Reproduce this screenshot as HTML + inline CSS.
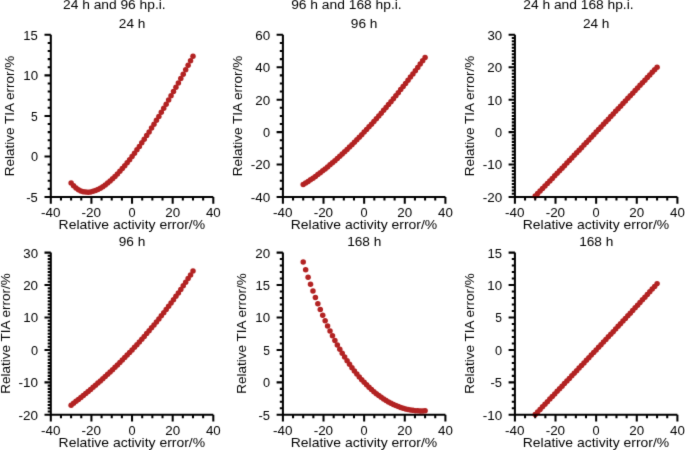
<!DOCTYPE html>
<html><head><meta charset="utf-8"><style>html,body{margin:0;padding:0;background:#fff;overflow:hidden}svg{display:block}text{font-family:"Liberation Sans",sans-serif}</style></head><body>
<svg width="685" height="450" viewBox="0 0 685 450">
<defs><filter id="b" filterUnits="userSpaceOnUse" x="-10" y="-10" width="705" height="470"><feConvolveMatrix order="3" kernelMatrix="0.0113 0.0838 0.0113 0.0838 0.6193 0.0838 0.0113 0.0838 0.0113" edgeMode="none"/></filter></defs>
<rect width="685" height="450" fill="#fff"/>
<g filter="url(#b)">
<g fill="#b22222"><circle cx="71.11" cy="183.11" r="2.75"/><circle cx="73.55" cy="185.84" r="2.75"/><circle cx="75.99" cy="188.01" r="2.75"/><circle cx="78.42" cy="189.68" r="2.75"/><circle cx="80.86" cy="190.88" r="2.75"/><circle cx="83.30" cy="191.67" r="2.75"/><circle cx="85.74" cy="192.08" r="2.75"/><circle cx="88.17" cy="192.14" r="2.75"/><circle cx="90.61" cy="191.89" r="2.75"/><circle cx="93.05" cy="191.34" r="2.75"/><circle cx="95.49" cy="190.53" r="2.75"/><circle cx="97.92" cy="189.47" r="2.75"/><circle cx="100.36" cy="188.17" r="2.75"/><circle cx="102.80" cy="186.67" r="2.75"/><circle cx="105.24" cy="184.97" r="2.75"/><circle cx="107.67" cy="183.09" r="2.75"/><circle cx="110.11" cy="181.03" r="2.75"/><circle cx="112.55" cy="178.82" r="2.75"/><circle cx="114.99" cy="176.45" r="2.75"/><circle cx="117.42" cy="173.95" r="2.75"/><circle cx="119.86" cy="171.32" r="2.75"/><circle cx="122.30" cy="168.56" r="2.75"/><circle cx="124.74" cy="165.69" r="2.75"/><circle cx="127.17" cy="162.71" r="2.75"/><circle cx="129.61" cy="159.63" r="2.75"/><circle cx="132.05" cy="156.45" r="2.75"/><circle cx="134.49" cy="153.18" r="2.75"/><circle cx="136.93" cy="149.82" r="2.75"/><circle cx="139.36" cy="146.38" r="2.75"/><circle cx="141.80" cy="142.87" r="2.75"/><circle cx="144.24" cy="139.28" r="2.75"/><circle cx="146.68" cy="135.62" r="2.75"/><circle cx="149.11" cy="131.89" r="2.75"/><circle cx="151.55" cy="128.10" r="2.75"/><circle cx="153.99" cy="124.25" r="2.75"/><circle cx="156.43" cy="120.34" r="2.75"/><circle cx="158.86" cy="116.38" r="2.75"/><circle cx="161.30" cy="112.36" r="2.75"/><circle cx="163.74" cy="108.30" r="2.75"/><circle cx="166.18" cy="104.19" r="2.75"/><circle cx="168.61" cy="100.03" r="2.75"/><circle cx="171.05" cy="95.83" r="2.75"/><circle cx="173.49" cy="91.58" r="2.75"/><circle cx="175.93" cy="87.30" r="2.75"/><circle cx="178.36" cy="82.97" r="2.75"/><circle cx="180.80" cy="78.61" r="2.75"/><circle cx="183.24" cy="74.21" r="2.75"/><circle cx="185.68" cy="69.78" r="2.75"/><circle cx="188.11" cy="65.32" r="2.75"/><circle cx="190.55" cy="60.82" r="2.75"/><circle cx="192.99" cy="56.30" r="2.75"/><circle cx="303.21" cy="184.51" r="2.75"/><circle cx="305.65" cy="183.02" r="2.75"/><circle cx="308.09" cy="181.46" r="2.75"/><circle cx="310.52" cy="179.83" r="2.75"/><circle cx="312.96" cy="178.15" r="2.75"/><circle cx="315.40" cy="176.40" r="2.75"/><circle cx="317.84" cy="174.60" r="2.75"/><circle cx="320.27" cy="172.75" r="2.75"/><circle cx="322.71" cy="170.85" r="2.75"/><circle cx="325.15" cy="168.90" r="2.75"/><circle cx="327.59" cy="166.90" r="2.75"/><circle cx="330.02" cy="164.86" r="2.75"/><circle cx="332.46" cy="162.78" r="2.75"/><circle cx="334.90" cy="160.65" r="2.75"/><circle cx="337.34" cy="158.48" r="2.75"/><circle cx="339.77" cy="156.27" r="2.75"/><circle cx="342.21" cy="154.02" r="2.75"/><circle cx="344.65" cy="151.74" r="2.75"/><circle cx="347.09" cy="149.41" r="2.75"/><circle cx="349.52" cy="147.05" r="2.75"/><circle cx="351.96" cy="144.65" r="2.75"/><circle cx="354.40" cy="142.21" r="2.75"/><circle cx="356.84" cy="139.74" r="2.75"/><circle cx="359.27" cy="137.24" r="2.75"/><circle cx="361.71" cy="134.69" r="2.75"/><circle cx="364.15" cy="132.12" r="2.75"/><circle cx="366.59" cy="129.51" r="2.75"/><circle cx="369.02" cy="126.87" r="2.75"/><circle cx="371.46" cy="124.20" r="2.75"/><circle cx="373.90" cy="121.49" r="2.75"/><circle cx="376.34" cy="118.75" r="2.75"/><circle cx="378.77" cy="115.97" r="2.75"/><circle cx="381.21" cy="113.17" r="2.75"/><circle cx="383.65" cy="110.33" r="2.75"/><circle cx="386.09" cy="107.47" r="2.75"/><circle cx="388.52" cy="104.57" r="2.75"/><circle cx="390.96" cy="101.64" r="2.75"/><circle cx="393.40" cy="98.68" r="2.75"/><circle cx="395.84" cy="95.68" r="2.75"/><circle cx="398.27" cy="92.66" r="2.75"/><circle cx="400.71" cy="89.61" r="2.75"/><circle cx="403.15" cy="86.52" r="2.75"/><circle cx="405.59" cy="83.41" r="2.75"/><circle cx="408.02" cy="80.27" r="2.75"/><circle cx="410.46" cy="77.09" r="2.75"/><circle cx="412.90" cy="73.89" r="2.75"/><circle cx="415.34" cy="70.65" r="2.75"/><circle cx="417.77" cy="67.39" r="2.75"/><circle cx="420.21" cy="64.10" r="2.75"/><circle cx="422.65" cy="60.77" r="2.75"/><circle cx="425.09" cy="57.42" r="2.75"/><circle cx="535.21" cy="196.00" r="2.75"/><circle cx="537.65" cy="193.51" r="2.75"/><circle cx="540.09" cy="191.01" r="2.75"/><circle cx="542.52" cy="188.50" r="2.75"/><circle cx="544.96" cy="185.98" r="2.75"/><circle cx="547.40" cy="183.46" r="2.75"/><circle cx="549.84" cy="180.93" r="2.75"/><circle cx="552.27" cy="178.40" r="2.75"/><circle cx="554.71" cy="175.85" r="2.75"/><circle cx="557.15" cy="173.31" r="2.75"/><circle cx="559.59" cy="170.76" r="2.75"/><circle cx="562.02" cy="168.20" r="2.75"/><circle cx="564.46" cy="165.64" r="2.75"/><circle cx="566.90" cy="163.08" r="2.75"/><circle cx="569.34" cy="160.52" r="2.75"/><circle cx="571.77" cy="157.95" r="2.75"/><circle cx="574.21" cy="155.37" r="2.75"/><circle cx="576.65" cy="152.80" r="2.75"/><circle cx="579.09" cy="150.22" r="2.75"/><circle cx="581.52" cy="147.64" r="2.75"/><circle cx="583.96" cy="145.06" r="2.75"/><circle cx="586.40" cy="142.47" r="2.75"/><circle cx="588.84" cy="139.89" r="2.75"/><circle cx="591.27" cy="137.30" r="2.75"/><circle cx="593.71" cy="134.71" r="2.75"/><circle cx="596.15" cy="132.12" r="2.75"/><circle cx="598.59" cy="129.53" r="2.75"/><circle cx="601.02" cy="126.93" r="2.75"/><circle cx="603.46" cy="124.34" r="2.75"/><circle cx="605.90" cy="121.74" r="2.75"/><circle cx="608.34" cy="119.15" r="2.75"/><circle cx="610.77" cy="116.55" r="2.75"/><circle cx="613.21" cy="113.95" r="2.75"/><circle cx="615.65" cy="111.35" r="2.75"/><circle cx="618.09" cy="108.75" r="2.75"/><circle cx="620.52" cy="106.15" r="2.75"/><circle cx="622.96" cy="103.55" r="2.75"/><circle cx="625.40" cy="100.95" r="2.75"/><circle cx="627.84" cy="98.35" r="2.75"/><circle cx="630.27" cy="95.75" r="2.75"/><circle cx="632.71" cy="93.15" r="2.75"/><circle cx="635.15" cy="90.55" r="2.75"/><circle cx="637.59" cy="87.95" r="2.75"/><circle cx="640.02" cy="85.34" r="2.75"/><circle cx="642.46" cy="82.74" r="2.75"/><circle cx="644.90" cy="80.14" r="2.75"/><circle cx="647.34" cy="77.54" r="2.75"/><circle cx="649.77" cy="74.93" r="2.75"/><circle cx="652.21" cy="72.33" r="2.75"/><circle cx="654.65" cy="69.73" r="2.75"/><circle cx="657.09" cy="67.13" r="2.75"/><circle cx="71.11" cy="405.15" r="2.75"/><circle cx="73.55" cy="403.27" r="2.75"/><circle cx="75.99" cy="401.37" r="2.75"/><circle cx="78.42" cy="399.44" r="2.75"/><circle cx="80.86" cy="397.48" r="2.75"/><circle cx="83.30" cy="395.50" r="2.75"/><circle cx="85.74" cy="393.50" r="2.75"/><circle cx="88.17" cy="391.47" r="2.75"/><circle cx="90.61" cy="389.41" r="2.75"/><circle cx="93.05" cy="387.33" r="2.75"/><circle cx="95.49" cy="385.22" r="2.75"/><circle cx="97.92" cy="383.08" r="2.75"/><circle cx="100.36" cy="380.91" r="2.75"/><circle cx="102.80" cy="378.71" r="2.75"/><circle cx="105.24" cy="376.49" r="2.75"/><circle cx="107.67" cy="374.23" r="2.75"/><circle cx="110.11" cy="371.95" r="2.75"/><circle cx="112.55" cy="369.63" r="2.75"/><circle cx="114.99" cy="367.28" r="2.75"/><circle cx="117.42" cy="364.90" r="2.75"/><circle cx="119.86" cy="362.49" r="2.75"/><circle cx="122.30" cy="360.05" r="2.75"/><circle cx="124.74" cy="357.57" r="2.75"/><circle cx="127.17" cy="355.05" r="2.75"/><circle cx="129.61" cy="352.50" r="2.75"/><circle cx="132.05" cy="349.92" r="2.75"/><circle cx="134.49" cy="347.30" r="2.75"/><circle cx="136.93" cy="344.64" r="2.75"/><circle cx="139.36" cy="341.94" r="2.75"/><circle cx="141.80" cy="339.21" r="2.75"/><circle cx="144.24" cy="336.43" r="2.75"/><circle cx="146.68" cy="333.62" r="2.75"/><circle cx="149.11" cy="330.76" r="2.75"/><circle cx="151.55" cy="327.86" r="2.75"/><circle cx="153.99" cy="324.92" r="2.75"/><circle cx="156.43" cy="321.94" r="2.75"/><circle cx="158.86" cy="318.90" r="2.75"/><circle cx="161.30" cy="315.83" r="2.75"/><circle cx="163.74" cy="312.70" r="2.75"/><circle cx="166.18" cy="309.53" r="2.75"/><circle cx="168.61" cy="306.31" r="2.75"/><circle cx="171.05" cy="303.03" r="2.75"/><circle cx="173.49" cy="299.71" r="2.75"/><circle cx="175.93" cy="296.33" r="2.75"/><circle cx="178.36" cy="292.90" r="2.75"/><circle cx="180.80" cy="289.41" r="2.75"/><circle cx="183.24" cy="285.87" r="2.75"/><circle cx="185.68" cy="282.27" r="2.75"/><circle cx="188.11" cy="278.60" r="2.75"/><circle cx="190.55" cy="274.88" r="2.75"/><circle cx="192.99" cy="271.10" r="2.75"/><circle cx="303.21" cy="262.11" r="2.75"/><circle cx="305.65" cy="269.79" r="2.75"/><circle cx="308.09" cy="277.15" r="2.75"/><circle cx="310.52" cy="284.20" r="2.75"/><circle cx="312.96" cy="290.96" r="2.75"/><circle cx="315.40" cy="297.44" r="2.75"/><circle cx="317.84" cy="303.65" r="2.75"/><circle cx="320.27" cy="309.60" r="2.75"/><circle cx="322.71" cy="315.31" r="2.75"/><circle cx="325.15" cy="320.78" r="2.75"/><circle cx="327.59" cy="326.03" r="2.75"/><circle cx="330.02" cy="331.05" r="2.75"/><circle cx="332.46" cy="335.87" r="2.75"/><circle cx="334.90" cy="340.49" r="2.75"/><circle cx="337.34" cy="344.91" r="2.75"/><circle cx="339.77" cy="349.14" r="2.75"/><circle cx="342.21" cy="353.19" r="2.75"/><circle cx="344.65" cy="357.07" r="2.75"/><circle cx="347.09" cy="360.77" r="2.75"/><circle cx="349.52" cy="364.31" r="2.75"/><circle cx="351.96" cy="367.69" r="2.75"/><circle cx="354.40" cy="370.92" r="2.75"/><circle cx="356.84" cy="373.99" r="2.75"/><circle cx="359.27" cy="376.92" r="2.75"/><circle cx="361.71" cy="379.71" r="2.75"/><circle cx="364.15" cy="382.36" r="2.75"/><circle cx="366.59" cy="384.87" r="2.75"/><circle cx="369.02" cy="387.26" r="2.75"/><circle cx="371.46" cy="389.51" r="2.75"/><circle cx="373.90" cy="391.64" r="2.75"/><circle cx="376.34" cy="393.64" r="2.75"/><circle cx="378.77" cy="395.53" r="2.75"/><circle cx="381.21" cy="397.29" r="2.75"/><circle cx="383.65" cy="398.94" r="2.75"/><circle cx="386.09" cy="400.48" r="2.75"/><circle cx="388.52" cy="401.90" r="2.75"/><circle cx="390.96" cy="403.22" r="2.75"/><circle cx="393.40" cy="404.42" r="2.75"/><circle cx="395.84" cy="405.52" r="2.75"/><circle cx="398.27" cy="406.52" r="2.75"/><circle cx="400.71" cy="407.41" r="2.75"/><circle cx="403.15" cy="408.20" r="2.75"/><circle cx="405.59" cy="408.88" r="2.75"/><circle cx="408.02" cy="409.47" r="2.75"/><circle cx="410.46" cy="409.96" r="2.75"/><circle cx="412.90" cy="410.34" r="2.75"/><circle cx="415.34" cy="410.63" r="2.75"/><circle cx="417.77" cy="410.82" r="2.75"/><circle cx="420.21" cy="410.92" r="2.75"/><circle cx="422.65" cy="410.91" r="2.75"/><circle cx="425.09" cy="410.81" r="2.75"/><circle cx="535.21" cy="414.56" r="2.75"/><circle cx="537.65" cy="411.97" r="2.75"/><circle cx="540.09" cy="409.38" r="2.75"/><circle cx="542.52" cy="406.80" r="2.75"/><circle cx="544.96" cy="404.22" r="2.75"/><circle cx="547.40" cy="401.64" r="2.75"/><circle cx="549.84" cy="399.06" r="2.75"/><circle cx="552.27" cy="396.48" r="2.75"/><circle cx="554.71" cy="393.90" r="2.75"/><circle cx="557.15" cy="391.32" r="2.75"/><circle cx="559.59" cy="388.74" r="2.75"/><circle cx="562.02" cy="386.16" r="2.75"/><circle cx="564.46" cy="383.58" r="2.75"/><circle cx="566.90" cy="381.00" r="2.75"/><circle cx="569.34" cy="378.42" r="2.75"/><circle cx="571.77" cy="375.84" r="2.75"/><circle cx="574.21" cy="373.25" r="2.75"/><circle cx="576.65" cy="370.67" r="2.75"/><circle cx="579.09" cy="368.08" r="2.75"/><circle cx="581.52" cy="365.49" r="2.75"/><circle cx="583.96" cy="362.90" r="2.75"/><circle cx="586.40" cy="360.31" r="2.75"/><circle cx="588.84" cy="357.72" r="2.75"/><circle cx="591.27" cy="355.12" r="2.75"/><circle cx="593.71" cy="352.52" r="2.75"/><circle cx="596.15" cy="349.92" r="2.75"/><circle cx="598.59" cy="347.32" r="2.75"/><circle cx="601.02" cy="344.71" r="2.75"/><circle cx="603.46" cy="342.10" r="2.75"/><circle cx="605.90" cy="339.49" r="2.75"/><circle cx="608.34" cy="336.87" r="2.75"/><circle cx="610.77" cy="334.25" r="2.75"/><circle cx="613.21" cy="331.63" r="2.75"/><circle cx="615.65" cy="329.00" r="2.75"/><circle cx="618.09" cy="326.37" r="2.75"/><circle cx="620.52" cy="323.74" r="2.75"/><circle cx="622.96" cy="321.10" r="2.75"/><circle cx="625.40" cy="318.46" r="2.75"/><circle cx="627.84" cy="315.82" r="2.75"/><circle cx="630.27" cy="313.17" r="2.75"/><circle cx="632.71" cy="310.51" r="2.75"/><circle cx="635.15" cy="307.85" r="2.75"/><circle cx="637.59" cy="305.19" r="2.75"/><circle cx="640.02" cy="302.52" r="2.75"/><circle cx="642.46" cy="299.85" r="2.75"/><circle cx="644.90" cy="297.17" r="2.75"/><circle cx="647.34" cy="294.49" r="2.75"/><circle cx="649.77" cy="291.80" r="2.75"/><circle cx="652.21" cy="289.11" r="2.75"/><circle cx="654.65" cy="286.41" r="2.75"/><circle cx="657.09" cy="283.71" r="2.75"/></g>
<path d="M50.80 34.80V197.00H213.30M282.90 34.80V197.00H445.40M514.90 34.80V197.00H677.40M50.80 252.60V414.80H213.30M282.90 252.60V414.80H445.40M514.90 252.60V414.80H677.40" fill="none" stroke="#000" stroke-width="2.05" stroke-linecap="butt" stroke-linejoin="miter"/>
<path d="M50.80 197.00v6.8M60.96 197.00v3.5M71.11 197.00v3.5M81.27 197.00v3.5M91.42 197.00v6.8M101.58 197.00v3.5M111.74 197.00v3.5M121.89 197.00v3.5M132.05 197.00v6.8M142.21 197.00v3.5M152.36 197.00v3.5M162.52 197.00v3.5M172.68 197.00v6.8M182.83 197.00v3.5M192.99 197.00v3.5M203.14 197.00v3.5M213.30 197.00v6.8M50.80 197.00h-6.3M50.80 188.89h-3.1M50.80 180.78h-3.1M50.80 172.67h-3.1M50.80 164.56h-3.1M50.80 156.45h-6.3M50.80 148.34h-3.1M50.80 140.23h-3.1M50.80 132.12h-3.1M50.80 124.01h-3.1M50.80 115.90h-6.3M50.80 107.79h-3.1M50.80 99.68h-3.1M50.80 91.57h-3.1M50.80 83.46h-3.1M50.80 75.35h-6.3M50.80 67.24h-3.1M50.80 59.13h-3.1M50.80 51.02h-3.1M50.80 42.91h-3.1M50.80 34.80h-6.3M282.90 197.00v6.8M293.06 197.00v3.5M303.21 197.00v3.5M313.37 197.00v3.5M323.52 197.00v6.8M333.68 197.00v3.5M343.84 197.00v3.5M353.99 197.00v3.5M364.15 197.00v6.8M374.31 197.00v3.5M384.46 197.00v3.5M394.62 197.00v3.5M404.77 197.00v6.8M414.93 197.00v3.5M425.09 197.00v3.5M435.24 197.00v3.5M445.40 197.00v6.8M282.90 197.00h-6.3M282.90 188.89h-3.1M282.90 180.78h-3.1M282.90 172.67h-3.1M282.90 164.56h-6.3M282.90 156.45h-3.1M282.90 148.34h-3.1M282.90 140.23h-3.1M282.90 132.12h-6.3M282.90 124.01h-3.1M282.90 115.90h-3.1M282.90 107.79h-3.1M282.90 99.68h-6.3M282.90 91.57h-3.1M282.90 83.46h-3.1M282.90 75.35h-3.1M282.90 67.24h-6.3M282.90 59.13h-3.1M282.90 51.02h-3.1M282.90 42.91h-3.1M282.90 34.80h-6.3M514.90 197.00v6.8M525.06 197.00v3.5M535.21 197.00v3.5M545.37 197.00v3.5M555.52 197.00v6.8M565.68 197.00v3.5M575.84 197.00v3.5M585.99 197.00v3.5M596.15 197.00v6.8M606.31 197.00v3.5M616.46 197.00v3.5M626.62 197.00v3.5M636.77 197.00v6.8M646.93 197.00v3.5M657.09 197.00v3.5M667.24 197.00v3.5M677.40 197.00v6.8M514.90 197.00h-6.3M514.90 193.76h-3.1M514.90 190.51h-3.1M514.90 187.27h-3.1M514.90 184.02h-3.1M514.90 180.78h-3.1M514.90 177.54h-3.1M514.90 174.29h-3.1M514.90 171.05h-3.1M514.90 167.80h-3.1M514.90 164.56h-6.3M514.90 161.32h-3.1M514.90 158.07h-3.1M514.90 154.83h-3.1M514.90 151.58h-3.1M514.90 148.34h-3.1M514.90 145.10h-3.1M514.90 141.85h-3.1M514.90 138.61h-3.1M514.90 135.36h-3.1M514.90 132.12h-6.3M514.90 128.88h-3.1M514.90 125.63h-3.1M514.90 122.39h-3.1M514.90 119.14h-3.1M514.90 115.90h-3.1M514.90 112.66h-3.1M514.90 109.41h-3.1M514.90 106.17h-3.1M514.90 102.92h-3.1M514.90 99.68h-6.3M514.90 96.44h-3.1M514.90 93.19h-3.1M514.90 89.95h-3.1M514.90 86.70h-3.1M514.90 83.46h-3.1M514.90 80.22h-3.1M514.90 76.97h-3.1M514.90 73.73h-3.1M514.90 70.48h-3.1M514.90 67.24h-6.3M514.90 64.00h-3.1M514.90 60.75h-3.1M514.90 57.51h-3.1M514.90 54.26h-3.1M514.90 51.02h-3.1M514.90 47.78h-3.1M514.90 44.53h-3.1M514.90 41.29h-3.1M514.90 38.04h-3.1M514.90 34.80h-6.3M50.80 414.80v6.8M60.96 414.80v3.5M71.11 414.80v3.5M81.27 414.80v3.5M91.42 414.80v6.8M101.58 414.80v3.5M111.74 414.80v3.5M121.89 414.80v3.5M132.05 414.80v6.8M142.21 414.80v3.5M152.36 414.80v3.5M162.52 414.80v3.5M172.68 414.80v6.8M182.83 414.80v3.5M192.99 414.80v3.5M203.14 414.80v3.5M213.30 414.80v6.8M50.80 414.80h-6.3M50.80 411.56h-3.1M50.80 408.31h-3.1M50.80 405.07h-3.1M50.80 401.82h-3.1M50.80 398.58h-3.1M50.80 395.34h-3.1M50.80 392.09h-3.1M50.80 388.85h-3.1M50.80 385.60h-3.1M50.80 382.36h-6.3M50.80 379.12h-3.1M50.80 375.87h-3.1M50.80 372.63h-3.1M50.80 369.38h-3.1M50.80 366.14h-3.1M50.80 362.90h-3.1M50.80 359.65h-3.1M50.80 356.41h-3.1M50.80 353.16h-3.1M50.80 349.92h-6.3M50.80 346.68h-3.1M50.80 343.43h-3.1M50.80 340.19h-3.1M50.80 336.94h-3.1M50.80 333.70h-3.1M50.80 330.46h-3.1M50.80 327.21h-3.1M50.80 323.97h-3.1M50.80 320.72h-3.1M50.80 317.48h-6.3M50.80 314.24h-3.1M50.80 310.99h-3.1M50.80 307.75h-3.1M50.80 304.50h-3.1M50.80 301.26h-3.1M50.80 298.02h-3.1M50.80 294.77h-3.1M50.80 291.53h-3.1M50.80 288.28h-3.1M50.80 285.04h-6.3M50.80 281.80h-3.1M50.80 278.55h-3.1M50.80 275.31h-3.1M50.80 272.06h-3.1M50.80 268.82h-3.1M50.80 265.58h-3.1M50.80 262.33h-3.1M50.80 259.09h-3.1M50.80 255.84h-3.1M50.80 252.60h-6.3M282.90 414.80v6.8M293.06 414.80v3.5M303.21 414.80v3.5M313.37 414.80v3.5M323.52 414.80v6.8M333.68 414.80v3.5M343.84 414.80v3.5M353.99 414.80v3.5M364.15 414.80v6.8M374.31 414.80v3.5M384.46 414.80v3.5M394.62 414.80v3.5M404.77 414.80v6.8M414.93 414.80v3.5M425.09 414.80v3.5M435.24 414.80v3.5M445.40 414.80v6.8M282.90 414.80h-6.3M282.90 408.31h-3.1M282.90 401.82h-3.1M282.90 395.34h-3.1M282.90 388.85h-3.1M282.90 382.36h-6.3M282.90 375.87h-3.1M282.90 369.38h-3.1M282.90 362.90h-3.1M282.90 356.41h-3.1M282.90 349.92h-6.3M282.90 343.43h-3.1M282.90 336.94h-3.1M282.90 330.46h-3.1M282.90 323.97h-3.1M282.90 317.48h-6.3M282.90 310.99h-3.1M282.90 304.50h-3.1M282.90 298.02h-3.1M282.90 291.53h-3.1M282.90 285.04h-6.3M282.90 278.55h-3.1M282.90 272.06h-3.1M282.90 265.58h-3.1M282.90 259.09h-3.1M282.90 252.60h-6.3M514.90 414.80v6.8M525.06 414.80v3.5M535.21 414.80v3.5M545.37 414.80v3.5M555.52 414.80v6.8M565.68 414.80v3.5M575.84 414.80v3.5M585.99 414.80v3.5M596.15 414.80v6.8M606.31 414.80v3.5M616.46 414.80v3.5M626.62 414.80v3.5M636.77 414.80v6.8M646.93 414.80v3.5M657.09 414.80v3.5M667.24 414.80v3.5M677.40 414.80v6.8M514.90 414.80h-6.3M514.90 408.31h-3.1M514.90 401.82h-3.1M514.90 395.34h-3.1M514.90 388.85h-3.1M514.90 382.36h-6.3M514.90 375.87h-3.1M514.90 369.38h-3.1M514.90 362.90h-3.1M514.90 356.41h-3.1M514.90 349.92h-6.3M514.90 343.43h-3.1M514.90 336.94h-3.1M514.90 330.46h-3.1M514.90 323.97h-3.1M514.90 317.48h-6.3M514.90 310.99h-3.1M514.90 304.50h-3.1M514.90 298.02h-3.1M514.90 291.53h-3.1M514.90 285.04h-6.3M514.90 278.55h-3.1M514.90 272.06h-3.1M514.90 265.58h-3.1M514.90 259.09h-3.1M514.90 252.60h-6.3" fill="none" stroke="#000" stroke-width="2.05"/>
<g font-family="Liberation Sans, sans-serif" fill="#000" opacity="0.999"><text font-size="12.82" transform="translate(40.91,216.70) scale(1.0520,1)">-40</text><text font-size="12.82" transform="translate(81.54,216.70) scale(1.0520,1)">-20</text><text font-size="12.82" transform="translate(128.50,216.70) scale(0.9949,1)">0</text><text font-size="12.82" transform="translate(165.19,216.70) scale(1.0451,1)">20</text><text font-size="12.82" transform="translate(205.89,216.70) scale(1.0398,1)">40</text><text font-size="12.82" transform="translate(26.30,201.90) scale(1.0121,1)">-5</text><text font-size="12.82" transform="translate(30.95,161.35) scale(0.9949,1)">0</text><text font-size="12.82" transform="translate(31.10,120.80) scale(0.9389,1)">5</text><text font-size="12.82" transform="translate(23.27,80.25) scale(1.0376,1)">10</text><text font-size="12.82" transform="translate(23.29,39.70) scale(1.0207,1)">15</text><text font-size="12.82" transform="translate(118.79,28.00) scale(1.0648,1)">24 h</text><text font-size="12.82" transform="translate(58.60,229.20) scale(1.0899,1)">Relative activity error/%</text><text font-size="12.82" transform="translate(14.10,176.13) rotate(-90) scale(1.0513,1)">Relative TIA error/%</text><text font-size="12.82" transform="translate(273.01,216.70) scale(1.0520,1)">-40</text><text font-size="12.82" transform="translate(313.64,216.70) scale(1.0520,1)">-20</text><text font-size="12.82" transform="translate(360.60,216.70) scale(0.9949,1)">0</text><text font-size="12.82" transform="translate(397.29,216.70) scale(1.0451,1)">20</text><text font-size="12.82" transform="translate(437.99,216.70) scale(1.0398,1)">40</text><text font-size="12.82" transform="translate(250.68,201.90) scale(1.0520,1)">-40</text><text font-size="12.82" transform="translate(250.68,169.46) scale(1.0520,1)">-20</text><text font-size="12.82" transform="translate(263.05,137.02) scale(0.9949,1)">0</text><text font-size="12.82" transform="translate(255.27,104.58) scale(1.0451,1)">20</text><text font-size="12.82" transform="translate(255.34,72.14) scale(1.0398,1)">40</text><text font-size="12.82" transform="translate(255.22,39.70) scale(1.0488,1)">60</text><text font-size="12.82" transform="translate(350.81,28.00) scale(1.0681,1)">96 h</text><text font-size="12.82" transform="translate(290.70,229.20) scale(1.0899,1)">Relative activity error/%</text><text font-size="12.82" transform="translate(242.10,176.13) rotate(-90) scale(1.0513,1)">Relative TIA error/%</text><text font-size="12.82" transform="translate(505.01,216.70) scale(1.0520,1)">-40</text><text font-size="12.82" transform="translate(545.64,216.70) scale(1.0520,1)">-20</text><text font-size="12.82" transform="translate(592.60,216.70) scale(0.9949,1)">0</text><text font-size="12.82" transform="translate(629.29,216.70) scale(1.0451,1)">20</text><text font-size="12.82" transform="translate(669.99,216.70) scale(1.0398,1)">40</text><text font-size="12.82" transform="translate(482.68,201.90) scale(1.0520,1)">-20</text><text font-size="12.82" transform="translate(482.68,169.46) scale(1.0520,1)">-10</text><text font-size="12.82" transform="translate(495.05,137.02) scale(0.9949,1)">0</text><text font-size="12.82" transform="translate(487.37,104.58) scale(1.0376,1)">10</text><text font-size="12.82" transform="translate(487.27,72.14) scale(1.0451,1)">20</text><text font-size="12.82" transform="translate(487.47,39.70) scale(1.0301,1)">30</text><text font-size="12.82" transform="translate(582.89,28.00) scale(1.0648,1)">24 h</text><text font-size="12.82" transform="translate(522.70,229.20) scale(1.0899,1)">Relative activity error/%</text><text font-size="12.82" transform="translate(474.00,176.13) rotate(-90) scale(1.0513,1)">Relative TIA error/%</text><text font-size="12.82" transform="translate(40.91,434.50) scale(1.0520,1)">-40</text><text font-size="12.82" transform="translate(81.54,434.50) scale(1.0520,1)">-20</text><text font-size="12.82" transform="translate(128.50,434.50) scale(0.9949,1)">0</text><text font-size="12.82" transform="translate(165.19,434.50) scale(1.0451,1)">20</text><text font-size="12.82" transform="translate(205.89,434.50) scale(1.0398,1)">40</text><text font-size="12.82" transform="translate(18.58,419.70) scale(1.0520,1)">-20</text><text font-size="12.82" transform="translate(18.58,387.26) scale(1.0520,1)">-10</text><text font-size="12.82" transform="translate(30.95,354.82) scale(0.9949,1)">0</text><text font-size="12.82" transform="translate(23.27,322.38) scale(1.0376,1)">10</text><text font-size="12.82" transform="translate(23.17,289.94) scale(1.0451,1)">20</text><text font-size="12.82" transform="translate(23.37,257.50) scale(1.0301,1)">30</text><text font-size="12.82" transform="translate(118.71,245.80) scale(1.0681,1)">96 h</text><text font-size="12.82" transform="translate(58.60,447.00) scale(1.0899,1)">Relative activity error/%</text><text font-size="12.82" transform="translate(10.00,393.63) rotate(-90) scale(1.0513,1)">Relative TIA error/%</text><text font-size="12.82" transform="translate(273.01,434.50) scale(1.0520,1)">-40</text><text font-size="12.82" transform="translate(313.64,434.50) scale(1.0520,1)">-20</text><text font-size="12.82" transform="translate(360.60,434.50) scale(0.9949,1)">0</text><text font-size="12.82" transform="translate(397.29,434.50) scale(1.0451,1)">20</text><text font-size="12.82" transform="translate(437.99,434.50) scale(1.0398,1)">40</text><text font-size="12.82" transform="translate(258.40,419.70) scale(1.0121,1)">-5</text><text font-size="12.82" transform="translate(263.05,387.26) scale(0.9949,1)">0</text><text font-size="12.82" transform="translate(263.20,354.82) scale(0.9389,1)">5</text><text font-size="12.82" transform="translate(255.37,322.38) scale(1.0376,1)">10</text><text font-size="12.82" transform="translate(255.39,289.94) scale(1.0207,1)">15</text><text font-size="12.82" transform="translate(255.27,257.50) scale(1.0451,1)">20</text><text font-size="12.82" transform="translate(347.13,245.80) scale(1.0653,1)">168 h</text><text font-size="12.82" transform="translate(290.70,447.00) scale(1.0899,1)">Relative activity error/%</text><text font-size="12.82" transform="translate(246.00,393.63) rotate(-90) scale(1.0513,1)">Relative TIA error/%</text><text font-size="12.82" transform="translate(505.01,434.50) scale(1.0520,1)">-40</text><text font-size="12.82" transform="translate(545.64,434.50) scale(1.0520,1)">-20</text><text font-size="12.82" transform="translate(592.60,434.50) scale(0.9949,1)">0</text><text font-size="12.82" transform="translate(629.29,434.50) scale(1.0451,1)">20</text><text font-size="12.82" transform="translate(669.99,434.50) scale(1.0398,1)">40</text><text font-size="12.82" transform="translate(482.68,419.70) scale(1.0520,1)">-10</text><text font-size="12.82" transform="translate(490.40,387.26) scale(1.0121,1)">-5</text><text font-size="12.82" transform="translate(495.05,354.82) scale(0.9949,1)">0</text><text font-size="12.82" transform="translate(495.20,322.38) scale(0.9389,1)">5</text><text font-size="12.82" transform="translate(487.37,289.94) scale(1.0376,1)">10</text><text font-size="12.82" transform="translate(487.39,257.50) scale(1.0207,1)">15</text><text font-size="12.82" transform="translate(579.13,245.80) scale(1.0653,1)">168 h</text><text font-size="12.82" transform="translate(522.70,447.00) scale(1.0899,1)">Relative activity error/%</text><text font-size="12.82" transform="translate(474.00,393.63) rotate(-90) scale(1.0513,1)">Relative TIA error/%</text><text font-size="12.82" transform="translate(63.01,9.10) scale(1.0759,1)">24 h and 96 hp.i.</text><text font-size="12.82" transform="translate(291.18,9.10) scale(1.0769,1)">96 h and 168 hp.i.</text><text font-size="12.82" transform="translate(523.29,9.10) scale(1.0762,1)">24 h and 168 hp.i.</text></g>
</g>
</svg>
</body></html>
